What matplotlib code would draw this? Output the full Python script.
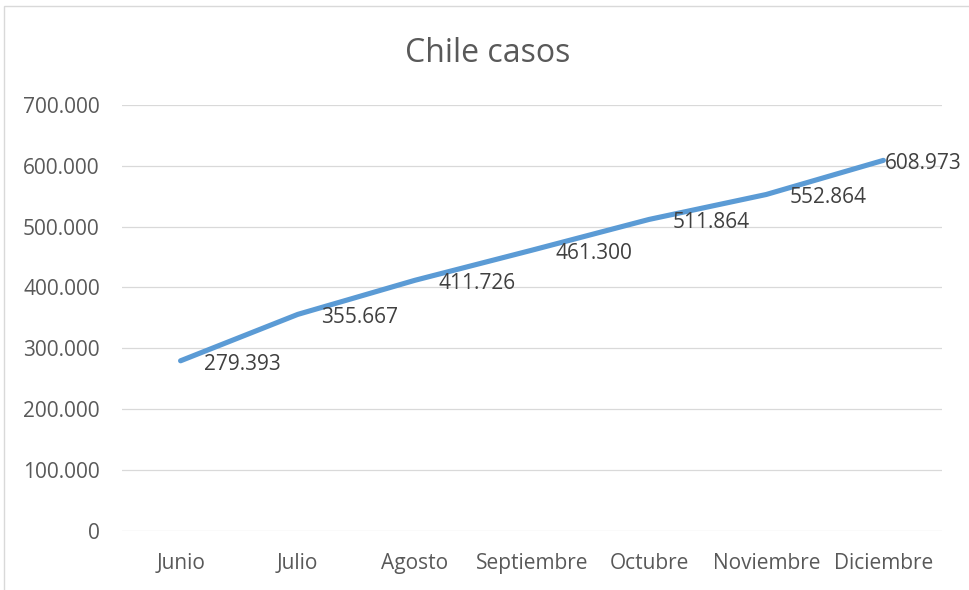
import matplotlib
matplotlib.use("Agg")
import matplotlib.pyplot as plt
from matplotlib.patches import Rectangle
from matplotlib.ticker import FuncFormatter

months = ["Junio", "Julio", "Agosto", "Septiembre", "Octubre", "Noviembre", "Diciembre"]
cases = [279393, 355667, 411726, 461300, 511864, 552864, 608973]
yticks = [0, 100000, 200000, 300000, 400000, 500000, 600000, 700000]
title = "Chile casos"

plt.rcParams['font.family'] = ['Open Sans', 'DejaVu Sans']

W, H = 969, 590
fig = plt.figure(figsize=(W / 100, H / 100), dpi=100)
fig.patch.set_facecolor("white")

# outer chart border (only top/left visible in reference)
fig.patches.append(Rectangle((4 / W, -0.2), 1.2, (H - 6) / H + 0.2, transform=fig.transFigure,
                             fill=False, edgecolor="#D9D9D9", linewidth=1.0))

ax = fig.add_axes([122 / W, (H - 530.7) / H, 820 / W, 425.7 / H])
x = list(range(len(months)))
ax.plot(x, cases, color="#5B9BD5", linewidth=3.7, solid_capstyle="round", zorder=3)

def fmt(v):
    return f"{int(round(v)):,}".replace(",", ".")

for i, v in enumerate(cases):
    if i == len(cases) - 1:
        off = 1.0
    else:
        off = 17
    ax.annotate(fmt(v), (i, v), xytext=(off, -2.5), textcoords="offset points",
                ha="left", va="center", fontsize=15, color="#404040", zorder=4)

ax.set_xlim(-0.5, len(months) - 0.5)
ax.set_ylim(0, 700000)
ax.set_yticks(yticks)
ax.yaxis.set_major_formatter(FuncFormatter(lambda v, p: fmt(v)))
ax.set_xticks(x)
ax.set_xticklabels(months)
ax.grid(axis="y", color="#D9D9D9", linewidth=0.9)
ax.set_axisbelow(True)
for s in ax.spines.values():
    s.set_visible(False)
ax.tick_params(axis="both", length=0, labelsize=15, labelcolor="#595959")
ax.tick_params(axis="y", pad=16)
ax.tick_params(axis="x", pad=16)

fig.text(488 / W, 1 - 53 / H, title, ha="center", va="center", fontsize=23, color="#595959")

fig.savefig("out.png", dpi=100, facecolor="white")
